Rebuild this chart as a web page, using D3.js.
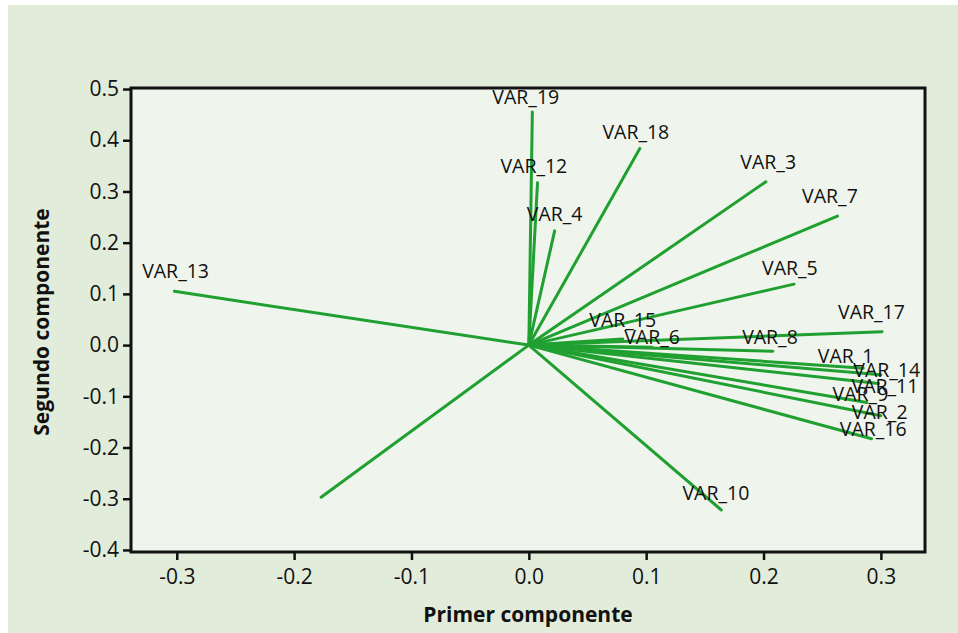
<!DOCTYPE html>
<html>
<head>
<meta charset="utf-8">
<script src="https://cdn.jsdelivr.net/npm/d3@7"></script>
<style>
  html, body { margin: 0; padding: 0; background: #ffffff; }
  svg { display: block; }
  .tick text { font-family: "Open Sans", sans-serif; font-size: 21px; fill: #111; }
  .var-label { font-family: "Open Sans", sans-serif; font-size: 19.5px; fill: #111; }
  .axis-title { font-family: "Open Sans", sans-serif; font-size: 21px; font-weight: bold; fill: #111; }
</style>
</head>
<body>
<div id="chart"></div>
<script>
// --- PCA loadings: first vs second component --------------------------------

const varNames = ['VAR_1', 'VAR_2', 'VAR_3', 'VAR_4', 'VAR_5', 'VAR_6', 'VAR_7',
  'VAR_8', 'VAR_9', 'VAR_10', 'VAR_11', 'VAR_12', 'VAR_13', 'VAR_14', 'VAR_15',
  'VAR_16', 'VAR_17', 'VAR_18', 'VAR_19', ''];

// loadings (last one has no label in the original)
const pc1 = [0.285, 0.300, 0.202, 0.022, 0.226, 0.105, 0.263,
  0.208, 0.288, 0.164, 0.298, 0.0074, -0.302, 0.300, 0.080,
  0.292, 0.301, 0.0946, 0.003, -0.177];
const pc2 = [-0.045, -0.138, 0.319, 0.223, 0.119, -0.004, 0.252,
  -0.012, -0.112, -0.322, -0.075, 0.317, 0.105, -0.058, 0.012,
  -0.183, 0.026, 0.384, 0.455, -0.297];

// where each label sits (centre of the text), in component units
const labelPc1 = [0.270, 0.299, 0.204, 0.022, 0.2225, 0.105, 0.2566,
  0.2055, 0.2826, 0.1594, 0.3035, 0.0043, -0.301, 0.305, 0.080,
  0.2935, 0.292, 0.0912, -0.0026, 0];
const labelPc2 = [-0.021, -0.130, 0.357, 0.256, 0.150, 0.0156, 0.291,
  0.0156, -0.0963, -0.289, -0.0807, 0.350, 0.1445, -0.0488, 0.049,
  -0.164, 0.0645, 0.416, 0.484, 0];

const xTicks = [-0.3, -0.2, -0.1, 0.0, 0.1, 0.2, 0.3];
const yTicks = [-0.4, -0.3, -0.2, -0.1, 0.0, 0.1, 0.2, 0.3, 0.4, 0.5];

const W = 958, H = 633;
const plot = { left: 131, top: 88, right: 925, bottom: 552 };

const svg = d3.select('#chart').append('svg')
  .attr('width', W).attr('height', H);

// outer panel (thin white strip on the top and left edges)
svg.append('rect')
  .attr('x', 8).attr('y', 5)
  .attr('width', W - 8).attr('height', H - 5)
  .attr('fill', '#e1ecda');

const x = d3.scaleLinear().domain([-0.339, 0.3376]).range([plot.left, plot.right]);
const y = d3.scaleLinear().domain([-0.404, 0.502]).range([plot.bottom, plot.top]);

svg.append('rect')
  .attr('x', plot.left).attr('y', plot.top)
  .attr('width', plot.right - plot.left).attr('height', plot.bottom - plot.top)
  .attr('fill', '#eff5ec');

const fmt = d => d.toFixed(1);

const gx = svg.append('g')
  .attr('transform', `translate(0, ${plot.bottom})`)
  .call(d3.axisBottom(x).tickValues(xTicks).tickFormat(fmt).tickSize(8).tickPadding(9));
const gy = svg.append('g')
  .attr('transform', `translate(${plot.left}, 0)`)
  .call(d3.axisLeft(y).tickValues(yTicks).tickFormat(fmt).tickSize(8).tickPadding(4));

[gx, gy].forEach(g => {
  g.select('.domain').remove();
  g.selectAll('.tick line').attr('stroke', '#111').attr('stroke-width', 2.5);
});

// --- vectors ---
const rows = varNames.map((name, i) => ({
  name, a: pc1[i], b: pc2[i], la: labelPc1[i], lb: labelPc2[i]
}));

svg.append('g')
  .selectAll('line')
  .data(rows)
  .join('line')
    .attr('x1', x(0)).attr('y1', y(0))
    .attr('x2', d => x(d.a)).attr('y2', d => y(d.b))
    .attr('stroke', '#20a031')
    .attr('stroke-width', 3)
    .attr('stroke-linecap', 'round');

svg.append('g')
  .selectAll('text')
  .data(rows.filter(d => d.name))
  .join('text')
    .attr('class', 'var-label')
    .attr('x', d => x(d.la))
    .attr('y', d => y(d.lb))
    .attr('dy', '0.36em')
    .attr('text-anchor', 'middle')
    .text(d => d.name);

// frame on top
svg.append('rect')
  .attr('x', plot.left).attr('y', plot.top)
  .attr('width', plot.right - plot.left).attr('height', plot.bottom - plot.top)
  .attr('fill', 'none')
  .attr('stroke', '#111')
  .attr('stroke-width', 3);

// --- axis titles ---
svg.append('text')
  .attr('class', 'axis-title')
  .attr('x', (plot.left + plot.right) / 2)
  .attr('y', 622)
  .attr('text-anchor', 'middle')
  .text('Primer componente');

svg.append('text')
  .attr('class', 'axis-title')
  .attr('transform', `translate(49, ${(plot.top + plot.bottom) / 2 + 2}) rotate(-90)`)
  .attr('text-anchor', 'middle')
  .text('Segundo componente');
</script>
</body>
</html>
